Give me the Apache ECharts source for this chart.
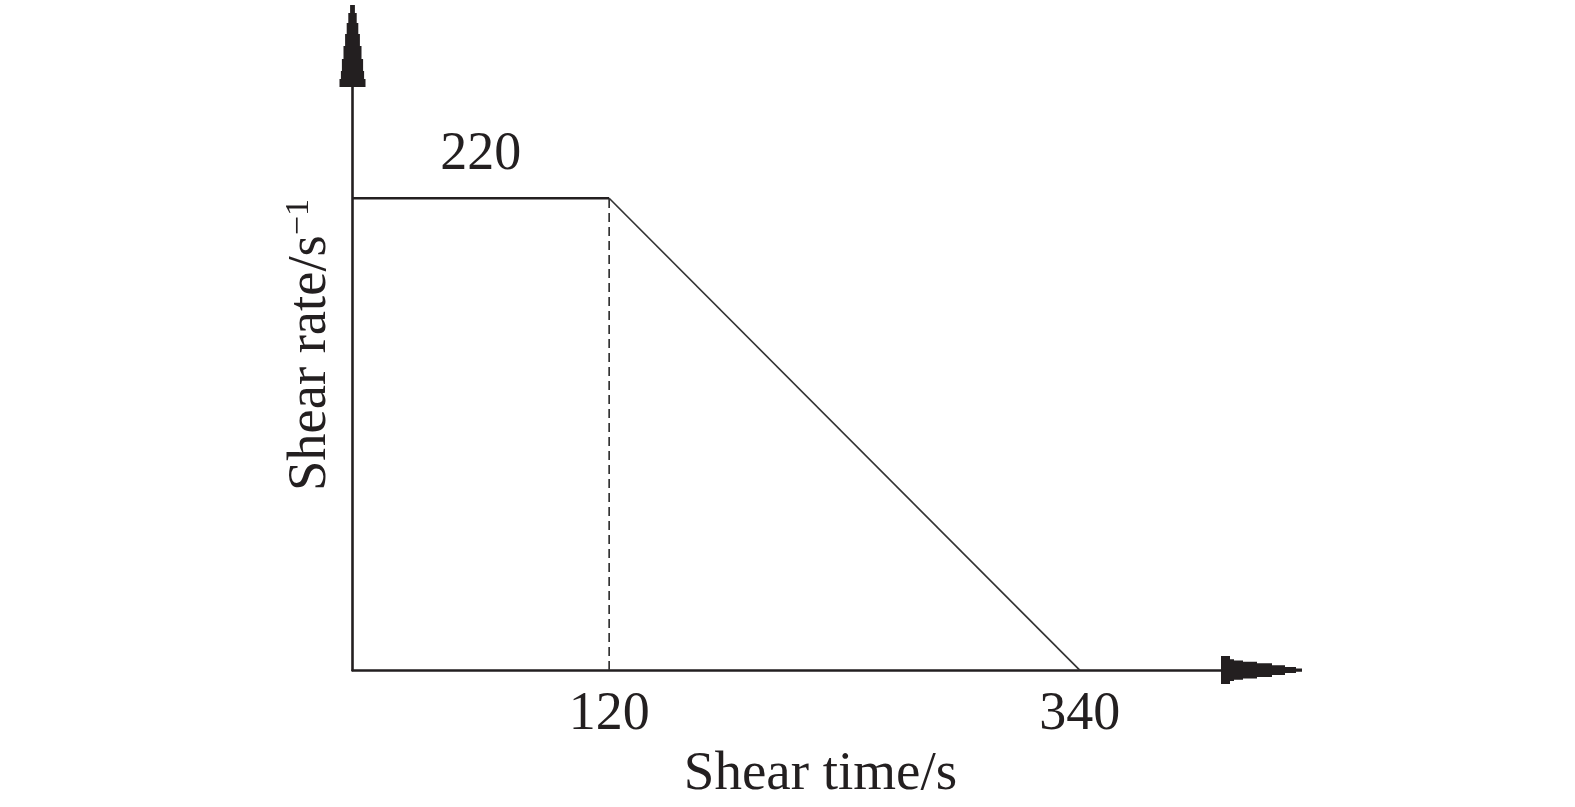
<!DOCTYPE html>
<html>
<head>
<meta charset="utf-8">
<script src="https://cdn.jsdelivr.net/npm/echarts@6/dist/echarts.min.js"></script>
<style>html,body{margin:0;padding:0;background:#fff}#c{width:1575px;height:807px}</style>
</head>
<body>
<div id="c"></div>
<script>
// Data
const plateau = [[0, 220], [120, 220]];
const ramp = [[120, 220], [340, 0]];
const divider = [[120, 0], [120, 220]];
const plateauLabel = [[60, 220]];
const xTickValues = [120, 340];
const xName = 'Shear time/s';
const yNameMain = 'Shear rate/s';
const yNameSup = '\u22121';

const INK = '#231f20';
const FONT = '"Liberation Serif", "Times New Roman", serif';

// stepped, tapering arrow heads (drawn pointing up; ECharts rotates them per axis)
function steppedArrow(width, height, steps) {
  const c = width / 2;
  let right = [], left = [];
  for (let i = 0; i < steps.length; i++) {
    const y0 = steps[i][0];
    const y1 = i + 1 < steps.length ? steps[i + 1][0] : height;
    const hw = steps[i][1];
    right.push([c + hw, y0], [c + hw, y1]);
    left.push([c - hw, y0], [c - hw, y1]);
  }
  left.reverse();
  const pts = right.concat(left);
  return 'path://M' + c + ',0 ' + pts.map(p => 'L' + p[0].toFixed(2) + ',' + p[1].toFixed(2)).join(' ') + ' Z';
}
const arrowY = steppedArrow(26, 82, [[0, 2.4], [8, 4.2], [18, 5.8], [29, 7.4], [41, 9.0], [54, 10.6], [66, 11.6], [74, 13]]);
const arrowX = steppedArrow(28, 81, [[0, 1.6], [6, 3.0], [17, 4.8], [30, 6.8], [45, 8.4], [59, 9.6], [68, 10.9], [72, 14]]);

const chart = echarts.init(document.getElementById('c'), null, {renderer: 'canvas'});
chart.setOption({
  animation: false,
  backgroundColor: '#fff',
  grid: {left: 352.5, top: 46, right: 313.5, bottom: 136, containLabel: false},
  xAxis: {
    type: 'value', min: 0, max: 425,
    splitLine: {show: false},
    axisTick: {show: false},
    axisLine: {
      show: true,
      lineStyle: {color: INK, width: 2.6},
      symbol: ['none', arrowX],
      symbolSize: [28, 81]
    },
    axisLabel: {
      customValues: xTickValues,
      color: INK, fontFamily: FONT, fontSize: 54, margin: 18
    },
    name: xName,
    nameLocation: 'middle',
    nameGap: 73,
    nameTextStyle: {color: INK, fontFamily: FONT, fontSize: 55, padding: [0, 0, 0, 27]}
  },
  yAxis: {
    type: 'value', min: 0, max: 291,
    splitLine: {show: false},
    axisTick: {show: false},
    axisLabel: {show: false},
    axisLine: {
      show: true,
      lineStyle: {color: INK, width: 2.6},
      symbol: ['none', arrowY],
      symbolSize: [26, 82]
    },
    name: '{a|' + yNameMain + '}{b|' + yNameSup + '}',
    nameLocation: 'middle',
    nameGap: 14,
    nameTextStyle: {
      color: INK, fontFamily: FONT, fontSize: 54,
      padding: [0, 0, 0, 26],
      rich: {
        a: {color: INK, fontFamily: FONT, fontSize: 54.5},
        b: {color: INK, fontFamily: FONT, fontSize: 34, verticalAlign: 'top', padding: [0, 0, 22, 0]}
      }
    }
  },
  series: [
    {
      type: 'line', data: plateau, symbol: 'none',
      lineStyle: {color: INK, width: 2.6}
    },
    {
      type: 'line', data: ramp, symbol: 'none',
      lineStyle: {color: '#333', width: 1.7}
    },
    {
      type: 'line', data: divider, symbol: 'none',
      lineStyle: {color: '#333', width: 1.7, type: [9, 5]}
    },
    {
      type: 'scatter', data: plateauLabel, symbolSize: 0,
      itemStyle: {opacity: 1},
      label: {
        show: true, position: 'top', distance: 16,
        formatter: p => String(p.value[1]),
        color: INK, opacity: 1, fontFamily: FONT, fontSize: 54
      }
    }
  ]
});
</script>
</body>
</html>
